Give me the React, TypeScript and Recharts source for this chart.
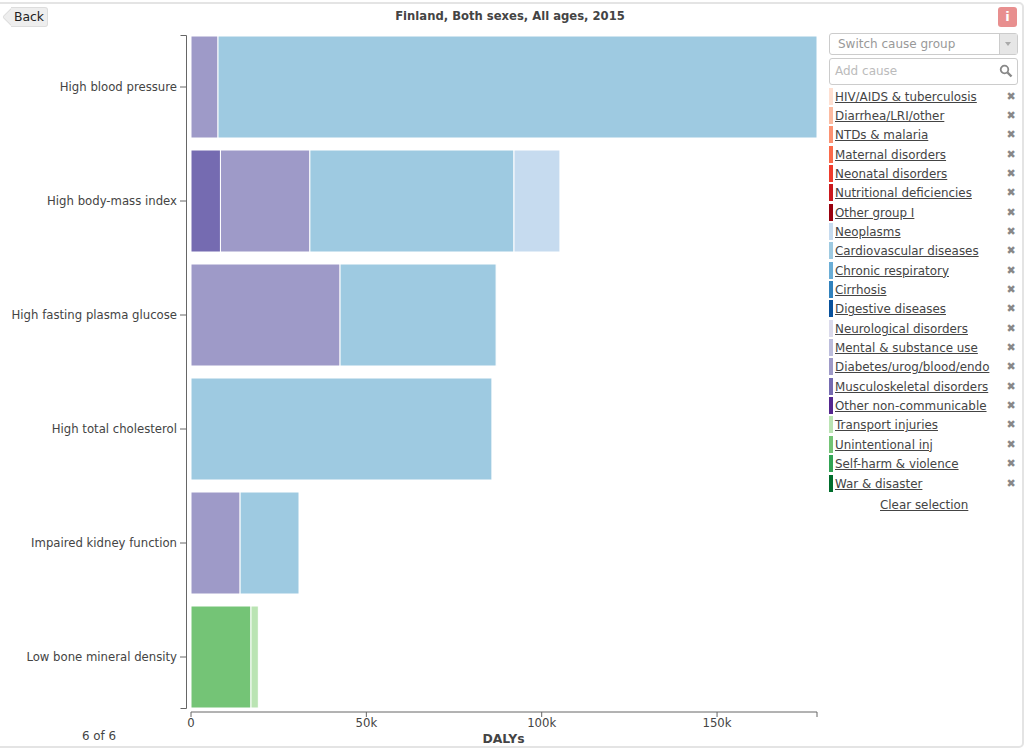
import React from "react";
import { BarChart, Bar, XAxis, YAxis } from "recharts";

const risks = [
  "High blood pressure",
  "High body-mass index",
  "High fasting plasma glucose",
  "High total cholesterol",
  "Impaired kidney function",
  "Low bone mineral density",
];

// DALYs per risk, same order as risks
const unintentional = [0, 0, 0, 0, 0, 17100];
const transport = [0, 0, 0, 0, 0, 2100];
const musculoskeletal = [0, 8400, 0, 0, 0, 0];
const diabetes = [7700, 25500, 42500, 0, 14000, 0];
const cardiovascular = [170800, 58200, 44500, 85800, 16800, 0];
const neoplasms = [0, 13100, 0, 0, 0, 0];

const xTicks = [0, 50000, 100000, 150000, 178500];
const xMax = 178500;

const causes = [
  "HIV/AIDS & tuberculosis",
  "Diarrhea/LRI/other",
  "NTDs & malaria",
  "Maternal disorders",
  "Neonatal disorders",
  "Nutritional deficiencies",
  "Other group I",
  "Neoplasms",
  "Cardiovascular diseases",
  "Chronic respiratory",
  "Cirrhosis",
  "Digestive diseases",
  "Neurological disorders",
  "Mental & substance use",
  "Diabetes/urog/blood/endo",
  "Musculoskeletal disorders",
  "Other non-communicable",
  "Transport injuries",
  "Unintentional inj",
  "Self-harm & violence",
  "War & disaster",
];
const causeColors = [
  "#FEE0D2", "#FCBBA1", "#FC9272", "#FB6A4A", "#EF3B2C", "#CB181D", "#99000D",
  "#C6DBEF", "#9ECAE1", "#6BAED6", "#3182BD", "#08519C",
  "#DADAEB", "#BCBDDC", "#9E9AC8", "#756BB1", "#54278F",
  "#BAE4B3", "#74C476", "#31A354", "#006D2C",
];

const data = risks.map((risk, i) => ({
  risk,
  unintentional: unintentional[i],
  transport: transport[i],
  musculoskeletal: musculoskeletal[i],
  diabetes: diabetes[i],
  cardiovascular: cardiovascular[i],
  neoplasms: neoplasms[i],
}));

const font = "'DejaVu Sans', sans-serif";
const textColor = "#444";

function RiskTick({ x, y, payload }: any) {
  return (
    <g>
      <line x1={180} x2={186} y1={y} y2={y} stroke="#666" />
      <text x={177} y={y + 4} textAnchor="end" fontFamily={font} fontSize={11.7} fill={textColor}>
        {payload.value}
      </text>
    </g>
  );
}

const label = (left: number, top: number, extra: any = {}): React.CSSProperties => ({
  position: "absolute",
  left,
  top,
  whiteSpace: "nowrap",
  fontFamily: font,
  color: textColor,
  fontSize: 11.9,
  ...extra,
});

export default function App() {
  return (
    <div style={{ position: "absolute", left: 0, top: 0, width: 1024, height: 751, background: "#fff", overflow: "hidden" }}>
      <div style={{ position: "absolute", left: -6, top: 2, width: 1026, height: 742, border: "2px solid #e4e4e4", borderRadius: 5 }} />

      <BarChart
        width={1024}
        height={751}
        data={data}
        layout="vertical"
        barCategoryGap={6}
        margin={{ top: 36, right: 207, bottom: 0, left: 0 }}
        style={{ position: "absolute", left: 0, top: 0 }}
      >
        <XAxis
          type="number"
          domain={[0, xMax]}
          ticks={xTicks}
          interval={0}
          height={39}
          stroke="#666"
          tickSize={5}
          tick={{ fill: textColor, fontSize: 11.7, fontFamily: font }}
          tickFormatter={v => (v === xMax ? "" : v === 0 ? "0" : `${v / 1000}k`)}
        />
        <YAxis
          type="category"
          dataKey="risk"
          width={191}
          axisLine={false}
          tickLine={false}
          padding={{ top: -6, bottom: -2 }}
          interval={0}
          tick={<RiskTick />}
        />
        <Bar dataKey="unintentional" stackId="a" fill="#74C476" stroke="#fff" isAnimationActive={false} />
        <Bar dataKey="transport" stackId="a" fill="#BAE4B3" stroke="#fff" isAnimationActive={false} />
        <Bar dataKey="musculoskeletal" stackId="a" fill="#756BB1" stroke="#fff" isAnimationActive={false} />
        <Bar dataKey="diabetes" stackId="a" fill="#9E9AC8" stroke="#fff" isAnimationActive={false} />
        <Bar dataKey="cardiovascular" stackId="a" fill="#9ECAE1" stroke="#fff" isAnimationActive={false} />
        <Bar dataKey="neoplasms" stackId="a" fill="#C6DBEF" stroke="#fff" isAnimationActive={false} />
      </BarChart>

      {/* y axis bracket sits left of the plot */}
      <svg width={10} height={690} style={{ position: "absolute", left: 180, top: 30 }}>
        <path d="M0.5 5.5H6.5V678.5H0.5" fill="none" stroke="#666" />
      </svg>

      <div style={label(0, 9, { width: 1020, textAlign: "center", fontWeight: "bold", fontSize: 11.6 })}>
        Finland, Both sexes, All ages, 2015
      </div>
      <div style={label(0, 731, { width: 1007, textAlign: "center", fontWeight: "bold", fontSize: 12.4 })}>DALYs</div>
      <div style={label(82, 729)}>6 of 6</div>

      {/* back button with its arrow edge */}
      <div style={{ position: "absolute", left: 5, top: 10, width: 12, height: 12, background: "#eee", border: "1px solid #ddd", transform: "rotate(45deg)", borderRadius: 2 }} />
      <div style={label(11, 7, { width: 36, height: 18, lineHeight: "18px", textAlign: "center", background: "#eee", border: "1px solid #ddd", borderLeft: "none", borderRadius: "0 3px 3px 0", color: "#222", fontSize: 12.4 })}>
        Back
      </div>

      <div style={{ position: "absolute", left: 998, top: 7, width: 19, height: 20, borderRadius: 3, background: "#E88F8F", color: "#fff", textAlign: "center", fontFamily: font, fontWeight: "bold", fontSize: 13, lineHeight: "20px" }}>
        i
      </div>

      <div style={label(829, 33, { width: 187, height: 20, lineHeight: "20px", border: "1px solid #ccc", borderRadius: 3, color: "#999", textIndent: 8, fontSize: 12 })}>
        Switch cause group
        <div style={{ position: "absolute", right: 0, top: 0, width: 17, height: 20, background: "#e6e6e6", borderLeft: "1px solid #ccc" }}>
          <div style={{ position: "absolute", left: 5, top: 8, width: 0, height: 0, borderLeft: "3px solid transparent", borderRight: "3px solid transparent", borderTop: "4px solid #aaa" }} />
        </div>
      </div>

      <div style={label(829, 58, { width: 187, height: 25, lineHeight: "25px", border: "1px solid #ccc", borderRadius: 3, color: "#bbb", textIndent: 5, fontSize: 12 })}>
        Add cause
        <svg width={14} height={14} style={{ position: "absolute", right: 4, top: 5 }}>
          <circle cx={5.5} cy={5.5} r={3.8} fill="none" stroke="#888" strokeWidth={1.8} />
          <line x1={8.5} y1={8.5} x2={12.5} y2={12.5} stroke="#888" strokeWidth={2.4} />
        </svg>
      </div>

      {causes.map((cause, i) => {
        const top = 87.5 + i * 19.35;
        return (
          <React.Fragment key={cause}>
            <div style={{ position: "absolute", left: 829, top, width: 4, height: 17, background: causeColors[i] }} />
            <div style={label(835, top + 1, { textDecoration: "underline", lineHeight: "16px" })}>{cause}</div>
            <div style={label(1006.5, top + 1, { color: "#888", lineHeight: "16px", fontSize: 11, fontWeight: "bold" })}>✖</div>
          </React.Fragment>
        );
      })}

      <div style={label(880, 497, { textDecoration: "underline", lineHeight: "16px" })}>Clear selection</div>
    </div>
  );
}
